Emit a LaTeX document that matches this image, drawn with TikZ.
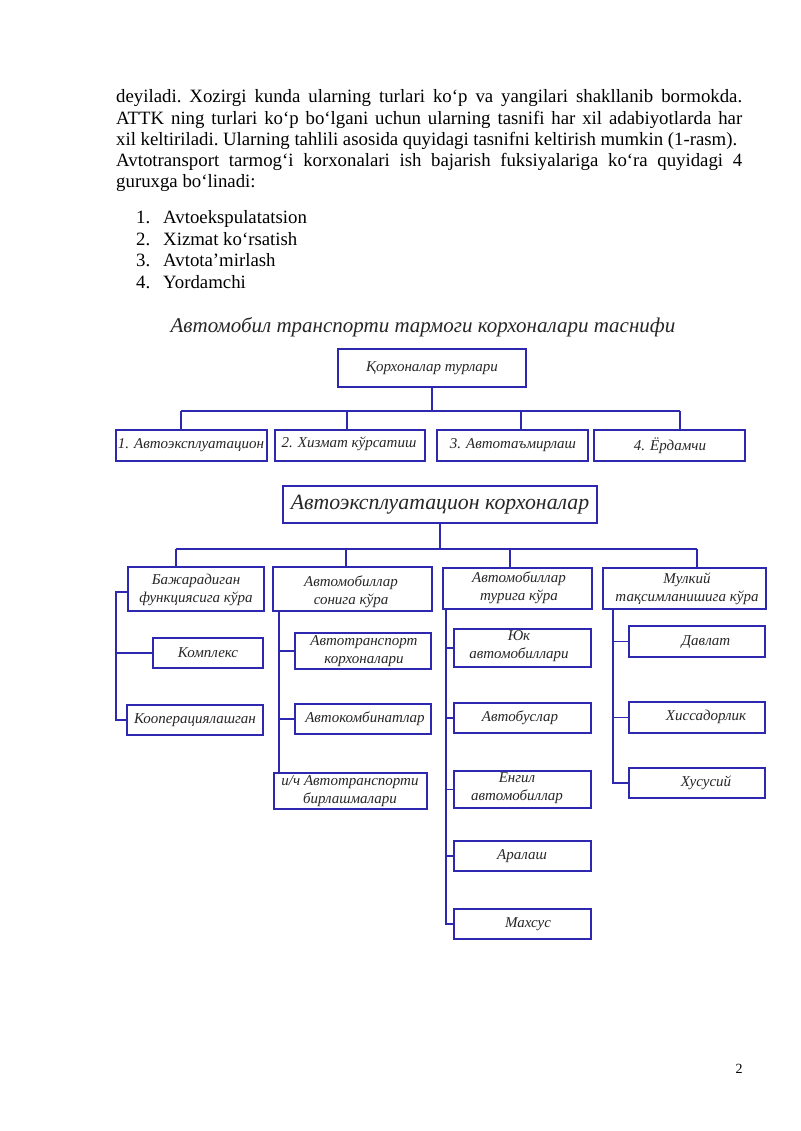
\documentclass[tikz,border=0pt]{standalone}
\usepackage{fontspec}
\setmainfont{Liberation Serif}
\usetikzlibrary{fit}
\definecolor{bblue}{RGB}{45,40,175}
\newcommand\bodyfont{\fontsize{18.8}{21.6}\selectfont\frenchspacing}
\newcommand\dfont{\itshape\fontsize{15}{18}\selectfont}
\newcommand\tfont{\itshape\fontsize{21}{25}\selectfont}
\newcommand\bfontbig{\itshape\fontsize{21.8}{25}\selectfont}
\tikzset{
  bx/.style={draw=bblue, line width=1.3pt, inner sep=0pt},
  ln/.style={draw=bblue, line width=1.3pt},
  bt/.style={font=\dfont, inner sep=0pt, align=center, text=black!85},
  para/.style={font=\bodyfont, inner sep=0pt, anchor=base west},
}
\begin{document}
\begin{tikzpicture}[x=1pt,y=-1pt]
\useasboundingbox[fill=white] (0,0) rectangle (800,1131);
% paragraph
\node[para] (p1) at (116,103) {\makebox[626pt][s]{deyiladi. Xozirgi kunda ularning turlari ko‘p va yangilari shakllanib bormokda.}};
\node[para] (p2) at (116,124.5) {\makebox[626pt][s]{ATTK ning turlari ko‘p bo‘lgani uchun ularning tasnifi har xil adabiyotlarda har}};
\node[para] (p3) at (116,146) {\makebox[621pt][s]{xil keltiriladi. Ularning tahlili asosida quyidagi tasnifni keltirish mumkin (1-rasm).}};
\node[para] (p4) at (116,167) {\makebox[626pt][s]{Avtotransport tarmog‘i korxonalari ish bajarish fuksiyalariga ko‘ra quyidagi 4}};
\node[para] (p5) at (116,188) {guruxga bo‘linadi:};
\node[para] (n1) at (136,224) {1.}; \node[para] (l1) at (163,224) {Avtoekspulatatsion};
\node[para] (n2) at (136,245.3) {2.}; \node[para] (l2) at (163,245.3) {Xizmat ko‘rsatish};
\node[para] (n3) at (136,266.6) {3.}; \node[para] (l3) at (163,266.6) {Avtota’mirlash};
\node[para] (n4) at (136,288) {4.}; \node[para] (l4) at (163,288) {Yordamchi};
% title
\node[font=\tfont, inner sep=0pt, text=black!85] (title) at (423,327) {Автомобил транспорти тармоги корхоналари таснифи};
% diagram 1
\node[bx, fit={(338,349) (526,387)}] (top) {};
\node[bt] (ttop) at (432,368) {Қорхоналар турлари};
\node[bx, fit={(116,430) (267,461)}] (r1) {};
\node[bx, fit={(275,430) (425,461)}] (r2) {};
\node[bx, fit={(437,430) (588,461)}] (r3) {};
\node[bx, fit={(594,430) (745,461)}] (r4) {};
\node[bt] (tr1) at (191,445) {1. Автоэксплуатацион};
\node[bt] (tr2) at (349,444) {2. Хизмат кўрсатиш};
\node[bt] (tr3) at (513,445) {3. Автотаъмирлаш};
\node[bt] (tr4) at (670,446) {4. Ёрдамчи};
\coordinate (u1) at (181,411);
\coordinate (u2) at (347,411);
\coordinate (u3) at (521,411);
\coordinate (u4) at (680,411);
\draw[ln] (top.south) -- (top.south |- u1);
\draw[ln] (u1) -- (u4);
\draw[ln] (u1) -- (u1 |- r1.north);
\draw[ln] (u2) -- (u2 |- r2.north);
\draw[ln] (u3) -- (u3 |- r3.north);
\draw[ln] (u4) -- (u4 |- r4.north);
% diagram 2
\node[bx, fit={(283,486) (597,523)}] (big) {};
\node[font=\bfontbig, inner sep=0pt, text=black!85] (tbig) at (440,505) {Автоэксплуатацион корхоналар};
\node[bx, fit={(128,567) (264,611)}] (A) {};
\node[bx, fit={(273,567) (432,611)}] (B) {};
\node[bx, fit={(443,568) (592,609)}] (C) {};
\node[bx, fit={(603,568) (766,609)}] (D) {};
\node[bt] (tA) at (196,590) {Бажарадиган\\функциясига кўра};
\node[bt] (tB) at (351,592) {Автомобиллар\\сонига кўра};
\node[bt] (tC) at (519,588) {Автомобиллар\\турига кўра};
\node[bt] (tD) at (687,589) {Мулкий\\тақсимланишига кўра};
\coordinate (v1) at (176,549);
\coordinate (v2) at (346,549);
\coordinate (v3) at (510,549);
\coordinate (v4) at (697,549);
\draw[ln] (big.south) -- (big.south |- v1);
\draw[ln] (v1) -- (v4);
\draw[ln] (v1) -- (v1 |- A.north);
\draw[ln] (v2) -- (v2 |- B.north);
\draw[ln] (v3) -- (v3 |- C.north);
\draw[ln] (v4) -- (v4 |- D.north);
% column A
\node[bx, fit={(153,638) (263,668)}] (komp) {};
\node[bx, fit={(127,705) (263,735)}] (koop) {};
\node[bt] (tkomp) at (208,653) {Комплекс};
\node[bt] (tkoop) at (195,720) {Кооперациялашган};
\coordinate (aT) at (116,592);
\draw[ln] (A.west |- aT) -- (aT) |- (koop.west);
\draw[ln] (komp.west) -- (komp.west -| aT);
% column B
\node[bx, fit={(295,633) (431,669)}] (atk) {};
\node[bx, fit={(295,704) (431,734)}] (akb) {};
\node[bx, fit={(274,773) (427,809)}] (ich) {};
\node[bt] (tatk) at (364,651) {Автотранспорт\\корхоналари};
\node[bt] (takb) at (365,719) {Автокомбинатлар};
\node[bt] (tich) at (350,791) {и/ч Автотранспорти\\бирлашмалари};
\coordinate (bT) at (279,611);
\draw[ln] (bT) -- (bT |- ich.north);
\draw[ln] (atk.west) -- (atk.west -| bT);
\draw[ln] (akb.west) -- (akb.west -| bT);
% column C
\node[bx, fit={(454,629) (591,667)}] (yuk) {};
\node[bx, fit={(454,703) (591,733)}] (avb) {};
\node[bx, fit={(454,771) (591,808)}] (eng) {};
\node[bx, fit={(454,841) (591,871)}] (ara) {};
\node[bx, fit={(454,909) (591,939)}] (mah) {};
\node[bt] (tyuk) at (519,646) {Юк\\автомобиллари};
\node[bt] (tavb) at (520,718) {Автобуслар};
\node[bt] (teng) at (517,788) {Енгил\\автомобиллар};
\node[bt] (tara) at (522,856) {Аралаш};
\node[bt] (tmah) at (528,924) {Махсус};
\coordinate (cT) at (446,609);
\draw[ln] (cT) |- (mah.west);
\draw[ln] (yuk.west) -- (yuk.west -| cT);
\draw[ln] (avb.west) -- (avb.west -| cT);
\draw[ln] (eng.west) -- (eng.west -| cT);
\draw[ln] (ara.west) -- (ara.west -| cT);
% column D
\node[bx, fit={(629,626) (765,657)}] (davl) {};
\node[bx, fit={(629,702) (765,733)}] (xis) {};
\node[bx, fit={(629,768) (765,798)}] (xus) {};
\node[bt] (tdavl) at (706,642) {Давлат};
\node[bt] (txis) at (706,717) {Хиссадорлик};
\node[bt] (txus) at (706,783) {Хусусий};
\coordinate (dT) at (613,609);
\draw[ln] (dT) |- (xus.west);
\draw[ln] (davl.west) -- (davl.west -| dT);
\draw[ln] (xis.west) -- (xis.west -| dT);
% page number
\node[font=\fontsize{14}{16}\selectfont, inner sep=0pt] (pg) at (739,1069) {2};
\end{tikzpicture}
\end{document}
